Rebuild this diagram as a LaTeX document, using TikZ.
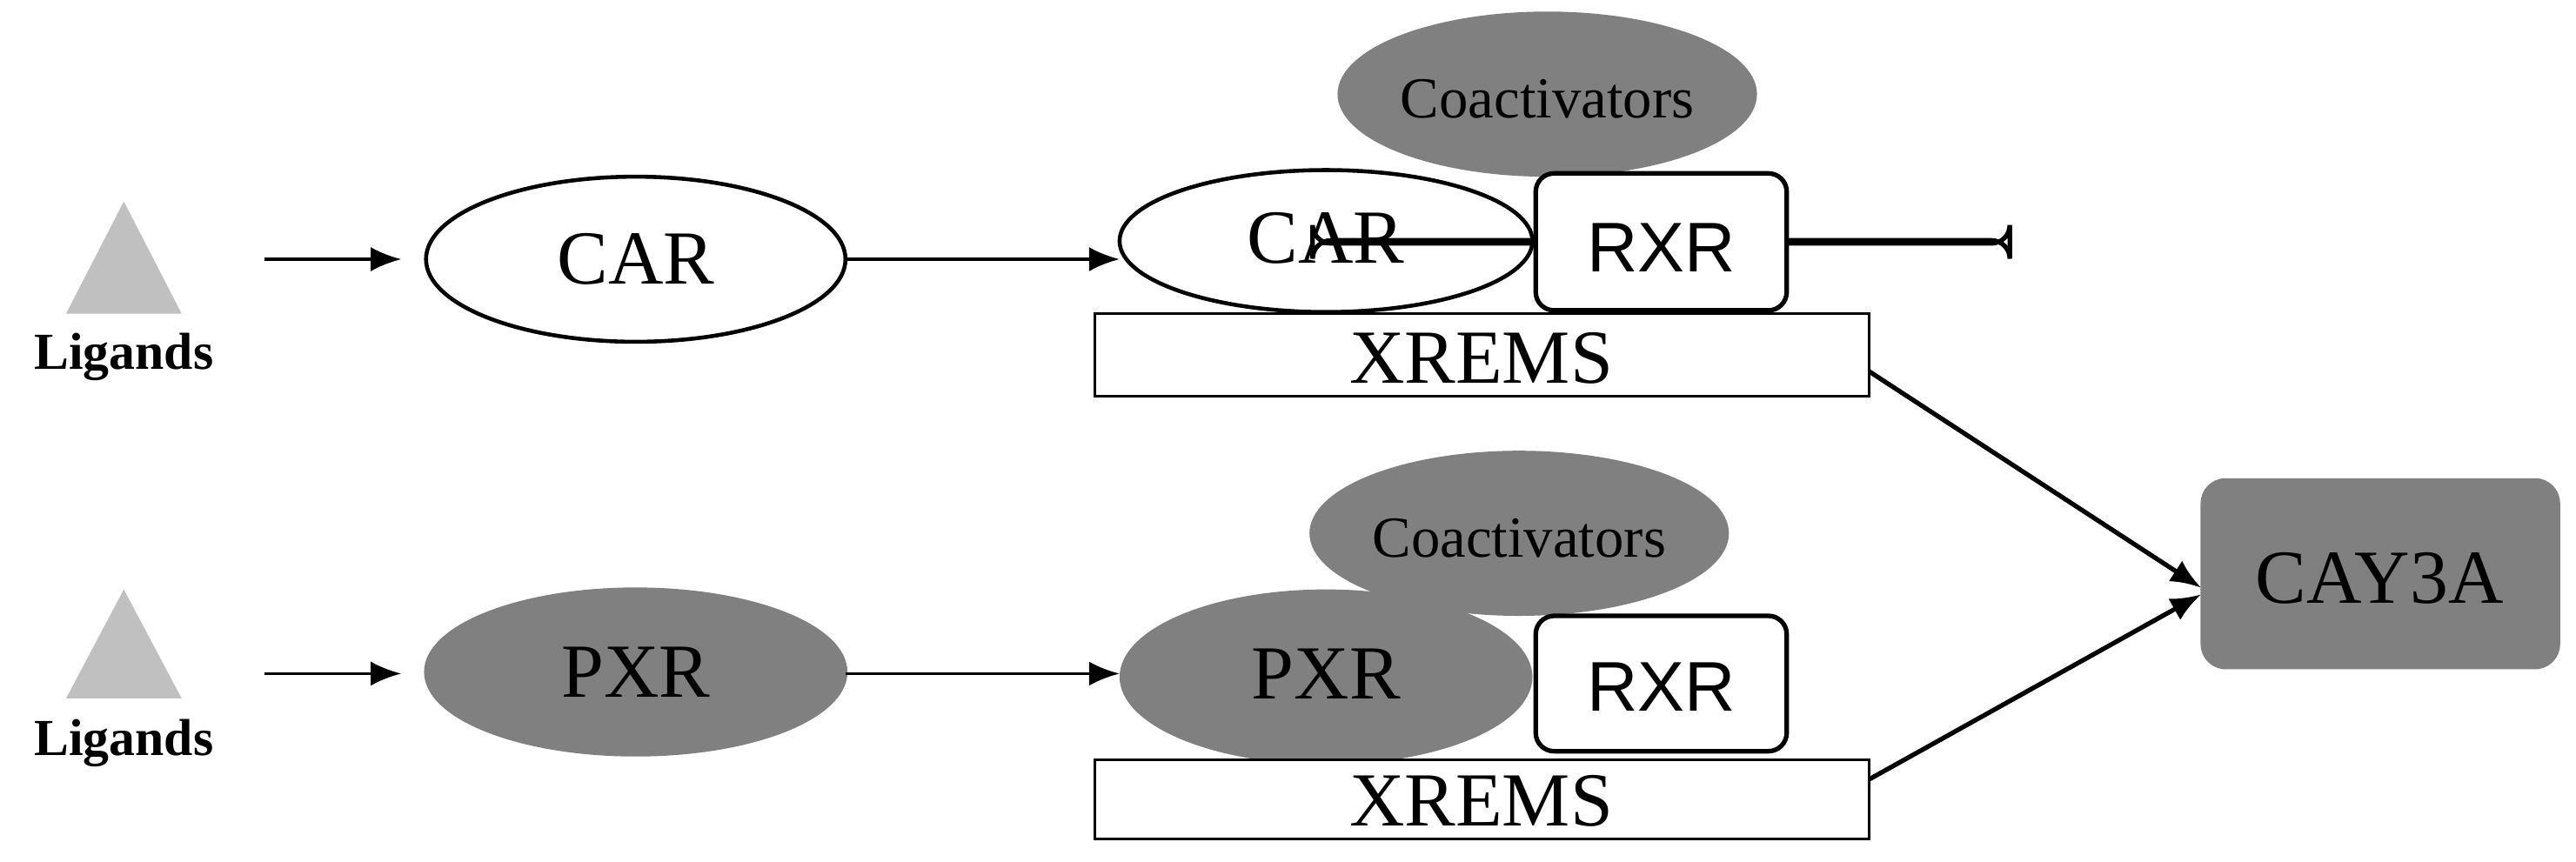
\documentclass[tikz,border=0pt]{standalone}
\usepackage{fontspec}
\setmainfont{Liberation Serif}
\newfontfamily\sansf{Liberation Sans}
\usetikzlibrary{arrows.meta}
\definecolor{dg}{HTML}{808080}
\definecolor{lg}{HTML}{C0C0C0}
\begin{document}
\begin{tikzpicture}[x=0.01898cm,y=-0.01898cm,
  ell/.style={draw=black,line width=1.3pt},
  lab/.style={font=\fontsize{25}{30}\selectfont},
  coa/.style={font=\fontsize{19}{22}\selectfont},
  lig/.style={font=\bfseries\fontsize{17}{20}\selectfont},
  rxr/.style={draw=black,line width=1.5pt,fill=white,rounded corners=6pt,font=\sansf\fontsize{23}{27}\selectfont},
  box/.style={draw=black,line width=0.8pt,fill=white,font=\fontsize{25}{30}\selectfont},
  arr/.style={line width=1pt,-{Latex[length=10pt,width=8pt]}}]
\useasboundingbox (0,0) rectangle (1560,521.6);
% triangles
\fill[lg] (75,122) -- (110,190) -- (40,190) -- cycle;
\fill[lg] (75,357) -- (110,423) -- (40,423) -- cycle;
\node[lig] (l1) at (75,216) {Ligands};
\node[lig] (l2) at (75,450) {Ligands};
\coordinate (a1s) at (160,157); \coordinate (a2s) at (160,408);
% top row
\draw[ell,fill=white] (385,157) ellipse [x radius=127,y radius=50];
\node[lab] (car1) at (385,157) {CAR};
\fill[dg] (937,57) ellipse [x radius=127,y radius=50];
\node[coa] (coa1) at (937,60) {Coactivators};
\draw[ell,fill=white] (803,146) ellipse [x radius=125,y radius=43];
\node[lab] (car2) at (803,144) {CAR};
\node[rxr,minimum width=152\pgflinewidth,inner sep=0pt] (rxr1) at (1006,146.5) {};
\draw[rxr] (930,105) rectangle (1082,188);
\node[font=\sansf\fontsize{23}{27}\selectfont] at (1006,150) {RXR};
\draw[box] (663,190) rectangle (1132,240);
\node[font=\fontsize{25}{30}\selectfont] (x1) at (897,217) {XREMS};
% bottom row
\draw[line width=1.3pt,draw=dg,fill=dg] (385,407) ellipse [x radius=127,y radius=50];
\node[lab] (pxr1) at (385,407) {PXR};
\fill[dg] (920,323) ellipse [x radius=127,y radius=50];
\node[coa] (coa2) at (920,326) {Coactivators};
\fill[dg] (803,410) ellipse [x radius=125,y radius=53];
\node[lab] (pxr2) at (803,408) {PXR};
\draw[rxr] (930,373) rectangle (1082,455);
\node[font=\sansf\fontsize{23}{27}\selectfont] at (1006,416) {RXR};
\draw[box] (663,460) rectangle (1132,508);
\node[font=\fontsize{25}{30}\selectfont] (x2) at (897,485) {XREMS};
% CAY3A
\draw[fill=dg,draw=dg,rounded corners=8pt] (1333,290) rectangle (1550,405);
\node[lab] (cay) at (1441,350) {CAY3A};
% arrows
\coordinate (a1e) at (243,157); \coordinate (a2e) at (243,408);
\coordinate (b1s) at (512,157); \coordinate (b1e) at (678,157);
\coordinate (b2s) at (512,408); \coordinate (b2e) at (678,408);
\coordinate (c1s) at (1132,225); \coordinate (c2s) at (1132,472);
\coordinate (ce1) at (1333,356); \coordinate (ce2) at (1333,360);
\draw[arr] (a1s) -- (a1e);
\draw[arr] (a2s) -- (a2e);
\draw[arr] (b1s) -- (b1e);
\draw[arr] (b2s) -- (b2e);
\draw[arr,line width=1.5pt] (c1s) -- (ce1);
\draw[arr,line width=1.5pt] (c2s) -- (ce2);
\end{tikzpicture}
\end{document}
